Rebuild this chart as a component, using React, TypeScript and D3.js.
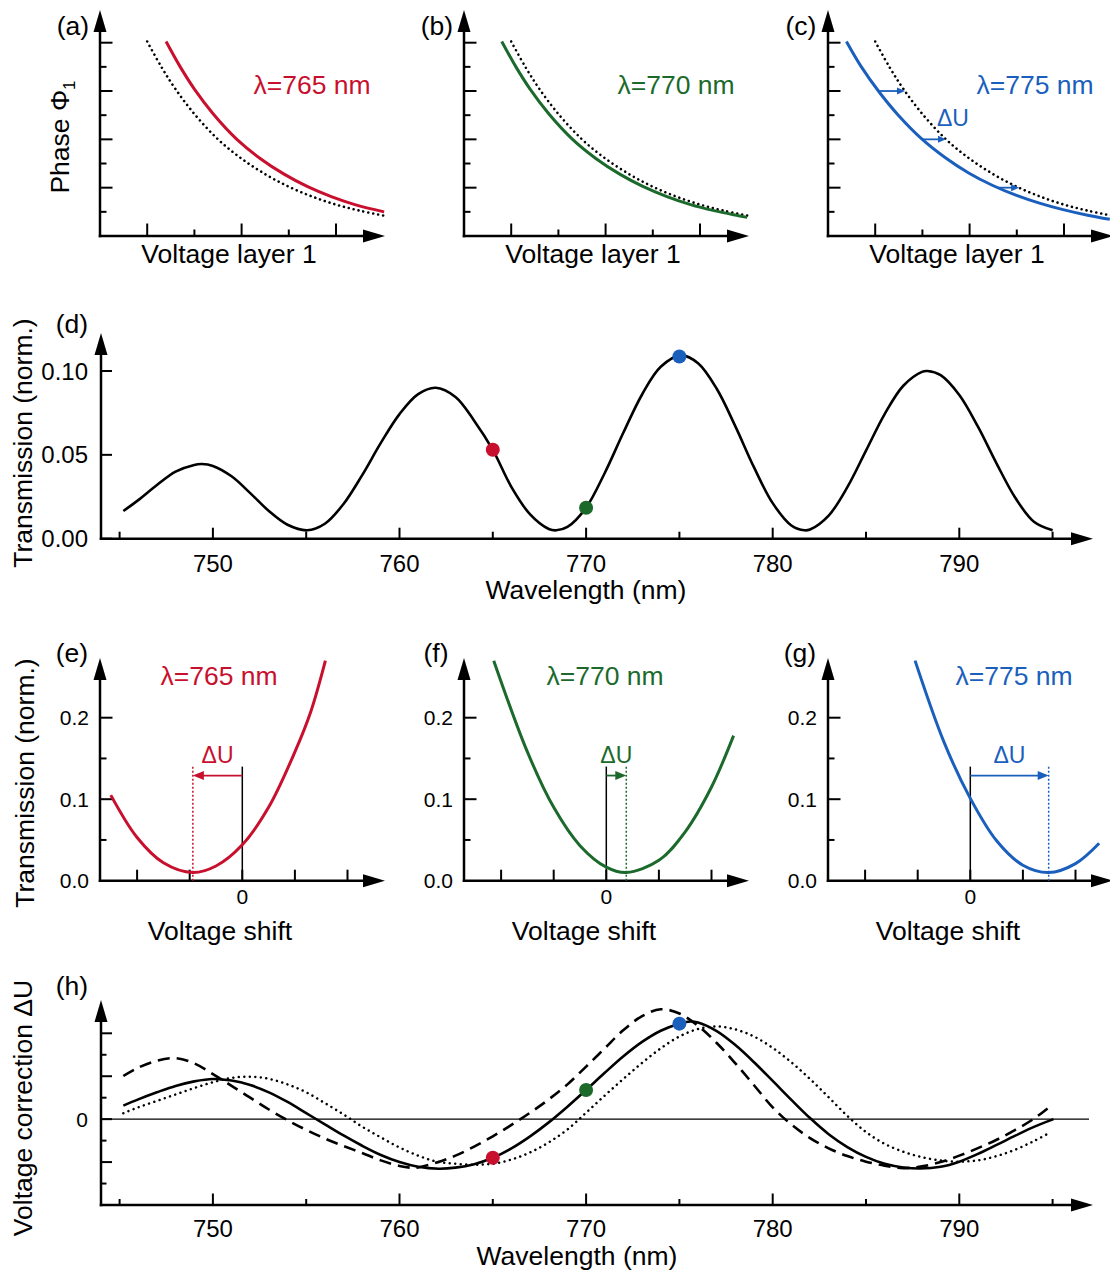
import React from 'react';
import * as d3 from 'd3';

type P = [number, number];

const RED = '#c8102e';
const GREEN = '#1b6a2c';
const BLUE = '#1b5fbd';
const FONT = "'Liberation Sans', Arial, Helvetica, sans-serif";
const TITLE = 26.5;

// ---------- (a)-(c): phase vs voltage ----------
const phaseXTicks = [1, 2, 3, 4, 5];
const phaseYTicks = [1, 2, 3, 4, 5, 6, 7, 8];
const phaseRef: P[] = [[1.0, 8.05], [1.3, 7.0], [1.6, 6.08], [2.0, 5.05], [2.5, 4.0], [3.0, 3.2], [3.5, 2.56], [4.0, 2.04], [4.5, 1.63], [5.0, 1.3], [5.5, 1.05], [6.02, 0.84]];
const phase765: P[] = [[1.4, 8.05], [1.7, 7.0], [2.0, 6.08], [2.4, 5.05], [2.9, 4.0], [3.4, 3.2], [3.9, 2.56], [4.4, 2.04], [4.9, 1.63], [5.4, 1.3], [6.02, 1.0]];
const phase770: P[] = [[0.8, 8.05], [1.1, 7.0], [1.4, 6.08], [1.8, 5.05], [2.3, 4.0], [2.8, 3.2], [3.3, 2.56], [3.8, 2.04], [4.3, 1.63], [4.8, 1.3], [5.3, 1.05], [5.82, 0.84], [6.0, 0.77]];
const phase775: P[] = [[0.39, 8.05], [0.7, 7.02], [1.08, 5.97], [1.48, 5.02], [1.98, 4.03], [2.48, 3.25], [2.98, 2.61], [3.48, 2.1], [3.98, 1.69], [4.48, 1.36], [4.98, 1.09], [5.5, 0.86], [5.97, 0.69]];
const arrowLevels775 = [6, 4, 2];

// ---------- (d): transmission spectrum ----------
const wlMajor = [750, 760, 770, 780, 790];
const wlMinor = [745, 755, 765, 775, 785, 795];
const transTicks = [0, 0.05, 0.1];
const transmission: P[] = [
  [745.2, 0.0165], [746, 0.023], [747, 0.032], [748, 0.04], [749, 0.044], [749.4, 0.0445], [750, 0.0434], [751, 0.0372],
  [752, 0.0272], [753, 0.0165], [754, 0.0083], [755.05, 0.005], [756, 0.0089], [757, 0.0207], [758, 0.0379], [759, 0.0571],
  [760, 0.0743], [761, 0.0862], [761.94, 0.09], [763, 0.0845], [764, 0.0704], [765, 0.053], [766, 0.0308], [767, 0.0145],
  [768, 0.0058], [768.4, 0.005], [769, 0.007], [770, 0.0185], [771, 0.0392], [772, 0.0633], [773, 0.086], [774, 0.1025],
  [775.1, 0.1093], [776, 0.1046], [777, 0.0894], [778, 0.067], [779, 0.0425], [780, 0.0212], [781, 0.0079], [781.7, 0.005],
  [782, 0.0055], [783, 0.0138], [784, 0.0307], [785, 0.0525], [786, 0.0743], [787, 0.0912], [788, 0.0995], [788.3, 0.1],
  [789, 0.0975], [790, 0.0857], [791, 0.0668], [792, 0.0448], [793, 0.0244], [794, 0.0101], [795, 0.005],
];
const markerWl = [765, 770, 775];
const markerColors = [RED, GREEN, BLUE];

// ---------- (e)-(g): transmission vs voltage shift ----------
const shiftTicks = [-2, -1, 0, 1, 2];
const shiftYMajor = [0.1, 0.2];
const shiftYMinor = [0.05, 0.15];
const shiftLabels = ['0.0', '0.1', '0.2'];
const shift765: P[] = [[-2.5, 0.105], [-2.0, 0.053], [-1.5, 0.022], [-0.94, 0.01], [-0.5, 0.018], [0, 0.044], [0.5, 0.09], [1.0, 0.158], [1.3, 0.207], [1.58, 0.27]];
const shift770: P[] = [[-2.14, 0.27], [-1.5, 0.158], [-1.0, 0.09], [-0.5, 0.043], [0, 0.0166], [0.38, 0.01], [1.0, 0.025], [1.5, 0.06], [2.0, 0.115], [2.42, 0.178]];
const shift775: P[] = [[-1.05, 0.27], [-0.5, 0.17], [0, 0.101], [0.5, 0.049], [1.0, 0.019], [1.49, 0.01], [2.0, 0.021], [2.45, 0.046]];
const shiftMin = [-0.94, 0.38, 1.49];
const arrowLevel = 0.129;
const markerTop = 0.14;

// ---------- (h): voltage correction ----------
const corrMajor = [-2, 0, 2, 4];
const corrMinor = [-3, -1, 1, 3];
const corrSolid: P[] = [
  [745.2, 0.63], [746, 0.92], [747, 1.25], [748, 1.55], [749, 1.76], [750, 1.87], [751, 1.8], [752, 1.59], [753, 1.25],
  [754, 0.8], [755, 0.28], [756, -0.24], [757, -0.76], [758, -1.24], [759, -1.67], [760, -2.0], [761, -2.22], [762.1, -2.31],
  [763, -2.26], [764, -2.1], [765, -1.8], [766, -1.36], [767, -0.8], [768, -0.15], [769, 0.58], [770, 1.36], [771, 2.16],
  [772, 2.93], [773, 3.6], [774, 4.12], [775, 4.45], [775.6, 4.55], [776, 4.5], [777, 4.1], [778, 3.45], [779, 2.65],
  [780, 1.78], [781, 0.9], [782, 0.05], [783, -0.7], [784, -1.3], [785, -1.76], [786, -2.08], [787, -2.25], [787.9, -2.3],
  [789, -2.22], [790, -1.98], [791, -1.62], [792, -1.2], [793, -0.77], [794, -0.36], [795.05, 0],
];
const corrDashed: P[] = [
  [745.2, 2.01], [746, 2.4], [747, 2.72], [748, 2.84], [749, 2.6], [750, 2.1], [751, 1.55], [752, 1.0], [753, 0.45],
  [754, -0.05], [755, -0.5], [756, -0.9], [757, -1.25], [758, -1.58], [759, -1.92], [760, -2.18], [760.6, -2.26],
  [761, -2.25], [762, -2.02], [763, -1.7], [764, -1.28], [765, -0.8], [766, -0.27], [767, 0.3], [768, 0.92], [769, 1.62],
  [770, 2.45], [771, 3.3], [772, 4.15], [773, 4.8], [774, 5.12], [775, 4.92], [776, 4.35], [777, 3.55], [778, 2.6],
  [779, 1.58], [780, 0.55], [781, -0.25], [782, -0.88], [783, -1.36], [784, -1.72], [785, -1.98], [786, -2.17], [787, -2.28],
  [788, -2.2], [789, -2.0], [790, -1.7], [791, -1.35], [792, -0.96], [793, -0.5], [794, 0.02], [794.8, 0.55],
];
const corrDotted: P[] = [
  [745.2, 0.28], [746, 0.55], [747, 0.85], [748, 1.15], [749, 1.45], [750, 1.72], [751, 1.92], [752, 1.98], [753, 1.88],
  [754, 1.62], [755, 1.25], [756, 0.75], [757, 0.22], [758, -0.35], [759, -0.85], [760, -1.32], [761, -1.7], [762, -1.98],
  [763, -2.08], [764, -2.12], [765, -2.08], [766, -1.88], [767, -1.55], [768, -1.08], [769, -0.48], [770, 0.3], [771, 1.1],
  [772, 1.88], [773, 2.62], [774, 3.3], [775, 3.85], [776, 4.2], [777, 4.32], [778, 4.18], [779, 3.85], [780, 3.32],
  [781, 2.65], [782, 1.87], [783, 1.02], [784, 0.15], [785, -0.6], [786, -1.15], [787, -1.52], [788, -1.77], [789, -1.93],
  [790, -1.98], [791, -1.92], [792, -1.72], [793, -1.42], [794, -1.02], [794.8, -0.65],
];

// ---------- helpers ----------
function interpY(data: P[], x: number): number {
  for (let i = 0; i < data.length - 1; i++) {
    const [x0, y0] = data[i];
    const [x1, y1] = data[i + 1];
    if (x >= x0 && x <= x1) return y0 + ((y1 - y0) * (x - x0)) / (x1 - x0);
  }
  return data[data.length - 1][1];
}
function interpX(data: P[], y: number): number {
  for (let i = 0; i < data.length - 1; i++) {
    const [x0, y0] = data[i];
    const [x1, y1] = data[i + 1];
    if ((y <= y0 && y >= y1) || (y >= y0 && y <= y1)) return x0 + ((x1 - x0) * (y - y0)) / (y1 - y0);
  }
  return data[data.length - 1][0];
}

const AXW = 2.5;

function UpArrow({ x, y }: { x: number; y: number }) {
  return <path d={`M${x},${y} L${x - 6.5},${y + 22} L${x + 6.5},${y + 22} Z`} fill="#000" />;
}
function RightArrow({ x, y }: { x: number; y: number }) {
  return <path d={`M${x},${y} L${x - 22},${y - 6.5} L${x - 22},${y + 6.5} Z`} fill="#000" />;
}

function Axes({ ox, oy, top, right }: { ox: number; oy: number; top: number; right: number }) {
  return (
    <g>
      <line x1={ox} y1={oy + AXW / 2} x2={ox} y2={top + 18} stroke="#000" strokeWidth={AXW} />
      <UpArrow x={ox} y={top} />
      <line x1={ox - AXW / 2} y1={oy} x2={right - 18} y2={oy} stroke="#000" strokeWidth={AXW} />
      <RightArrow x={right} y={oy} />
    </g>
  );
}

const txt = (props: any, children: any) => (
  <text fontFamily={FONT} fill="#000" {...props}>
    {children}
  </text>
);

function PhasePanel({ ox, letter, color, label, labelX, curve, arrows }: { ox: number; letter: string; color: string; label: string; labelX: number; curve: P[]; arrows?: number[] }) {
  const xs = d3.scaleLinear().domain([0, 6]).range([ox, ox + 283.2]);
  const ys = d3.scaleLinear().domain([0, 8]).range([236, 42.7]);
  const oy = ys(0);
  const ln = d3.line<P>().x((d) => xs(d[0])).y((d) => ys(d[1])).curve(d3.curveCatmullRom.alpha(0.5));
  return (
    <g>
      <Axes ox={ox} oy={oy} top={10} right={ox + 285} />
      {phaseXTicks.map((t) => (
        <line key={'x' + t} x1={xs(t)} x2={xs(t)} y1={oy} y2={oy - (t % 2 === 1 ? 12.5 : 6.5)} stroke="#000" strokeWidth={2} />
      ))}
      {phaseYTicks.map((t) => (
        <line key={'y' + t} x1={ox} x2={ox + (t % 2 === 0 ? 12.5 : 6.5)} y1={ys(t)} y2={ys(t)} stroke="#000" strokeWidth={2} />
      ))}
      <path d={ln(phaseRef) || ''} fill="none" stroke="#000" strokeWidth={2.6} strokeDasharray="0.01 5" strokeLinecap="round" />
      <path d={ln(curve) || ''} fill="none" stroke={color} strokeWidth={3} />
      {arrows &&
        arrows.map((lv) => {
          const x1 = xs(interpX(curve, lv));
          const x2 = xs(interpX(phaseRef, lv));
          const y = ys(lv);
          return (
            <g key={'a' + lv}>
              <line x1={x1} x2={x2 - 6} y1={y} y2={y} stroke={color} strokeWidth={1.8} />
              <path d={`M${x2},${y} L${x2 - 8},${y - 3.5} L${x2 - 8},${y + 3.5} Z`} fill={color} />
            </g>
          );
        })}
      {txt({ x: ox - 27, y: 35, fontSize: TITLE, textAnchor: 'middle' }, letter)}
      {txt({ x: labelX, y: 94, fontSize: TITLE, textAnchor: 'middle', fill: color }, label)}
      {txt({ x: ox + 129, y: 263, fontSize: TITLE, textAnchor: 'middle' }, 'Voltage layer 1')}
    </g>
  );
}

function ShiftPanel({ ox, letter, color, label, labelX, curve, minX }: { ox: number; letter: string; color: string; label: string; labelX: number; curve: P[]; minX: number }) {
  const xs = d3.scaleLinear().domain([-2, 2]).range([ox + 142.3 - 105.2, ox + 142.3 + 105.2]);
  const ys = d3.scaleLinear().domain([0, 0.2]).range([880.7, 717.7]);
  const oy = ys(0);
  const ln = d3.line<P>().x((d) => xs(d[0])).y((d) => ys(d[1])).curve(d3.curveCatmullRom.alpha(0.5));
  const ay = ys(arrowLevel);
  const x0 = xs(0);
  const xm = xs(minX);
  const dir = xm > x0 ? 1 : -1;
  return (
    <g>
      <Axes ox={ox} oy={oy} top={658} right={ox + 285} />
      {shiftTicks.map((t) => (
        <line key={'x' + t} x1={xs(t)} x2={xs(t)} y1={oy} y2={oy - 11} stroke="#000" strokeWidth={2} />
      ))}
      {shiftYMajor.map((t) => (
        <line key={'ym' + t} x1={ox} x2={ox + 12.5} y1={ys(t)} y2={ys(t)} stroke="#000" strokeWidth={2} />
      ))}
      {shiftYMinor.map((t) => (
        <line key={'yn' + t} x1={ox} x2={ox + 6.5} y1={ys(t)} y2={ys(t)} stroke="#000" strokeWidth={2} />
      ))}
      {shiftLabels.map((s, i) => txt({ key: 'l' + s, x: ox - 11, y: ys(i * 0.1) + 7.5, fontSize: 21, textAnchor: 'end' }, s))}
      {txt({ x: x0, y: 904, fontSize: 21, textAnchor: 'middle' }, '0')}
      <line x1={x0} x2={x0} y1={oy} y2={ys(markerTop)} stroke="#000" strokeWidth={1.5} />
      <line x1={xm} x2={xm} y1={oy} y2={ys(markerTop)} stroke={color} strokeWidth={1.5} strokeDasharray="2 2" />
      <line x1={x0} x2={xm - dir * 8} y1={ay} y2={ay} stroke={color} strokeWidth={1.8} />
      <path d={`M${xm},${ay} L${xm - dir * 11},${ay - 4.5} L${xm - dir * 11},${ay + 4.5} Z`} fill={color} />
      <path d={ln(curve) || ''} fill="none" stroke={color} strokeWidth={3} />
      {txt({ x: ox - 28, y: 662, fontSize: TITLE, textAnchor: 'middle' }, letter)}
      {txt({ x: (x0 + xm) / 2, y: 763, fontSize: 23, textAnchor: 'middle', fill: color }, 'ΔU')}
      {txt({ x: labelX, y: 685, fontSize: TITLE, textAnchor: 'middle', fill: color }, label)}
      {txt({ x: ox + 120, y: 940, fontSize: TITLE, textAnchor: 'middle' }, 'Voltage shift')}
    </g>
  );
}

export default function App() {
  const xw = d3.scaleLinear().domain([745, 795]).range([119.6, 1052.6]);
  const yd = d3.scaleLinear().domain([0, 0.1]).range([538.7, 371]);
  const yh = d3.scaleLinear().domain([-4, 4]).range([1205, 1033.3]);
  const lnD = d3.line<P>().x((d) => xw(d[0])).y((d) => yd(d[1])).curve(d3.curveCatmullRom.alpha(0.5));
  const lnH = d3.line<P>().x((d) => xw(d[0])).y((d) => yh(d[1])).curve(d3.curveCatmullRom.alpha(0.5));
  const ox = 101;

  return (
    <svg width={1110} height={1275} style={{ position: 'absolute', left: 0, top: 0, background: '#fff' }}>
      <rect x={0} y={0} width={1110} height={1275} fill="#fff" />
      {/* (a)-(c) */}
      <PhasePanel ox={100} letter="(a)" color={RED} label="λ=765 nm" labelX={312} curve={phase765} />
      <PhasePanel ox={464} letter="(b)" color={GREEN} label="λ=770 nm" labelX={676} curve={phase770} />
      <PhasePanel ox={828} letter="(c)" color={BLUE} label="λ=775 nm" labelX={1035} curve={phase775} arrows={arrowLevels775} />
      {txt({ x: 953, y: 126, fontSize: 23, textAnchor: 'middle', fill: BLUE }, 'ΔU')}
      <text fontFamily={FONT} fontSize={TITLE} textAnchor="middle" transform="translate(69,137) rotate(-90)">
        Phase Φ<tspan fontSize={17} dy={6}>1</tspan>
      </text>

      {/* (d) */}
      <g>
        <Axes ox={ox} oy={yd(0)} top={333} right={1093} />
        {wlMajor.map((t) => (
          <line key={'dM' + t} x1={xw(t)} x2={xw(t)} y1={yd(0)} y2={yd(0) - 11} stroke="#000" strokeWidth={2} />
        ))}
        {wlMinor.map((t) => (
          <line key={'dm' + t} x1={xw(t)} x2={xw(t)} y1={yd(0)} y2={yd(0) - 7} stroke="#000" strokeWidth={2} />
        ))}
        {transTicks.map((t) => (
          <line key={'dy' + t} x1={ox} x2={ox + 11} y1={yd(t)} y2={yd(t)} stroke="#000" strokeWidth={2} />
        ))}
        {transTicks.map((t) => txt({ key: 'dl' + t, x: 88, y: yd(t) + 8.5, fontSize: 24, textAnchor: 'end' }, t.toFixed(2)))}
        {wlMajor.map((t) => txt({ key: 'dx' + t, x: xw(t), y: 572, fontSize: 24, textAnchor: 'middle' }, String(t)))}
        <path d={lnD(transmission) || ''} fill="none" stroke="#000" strokeWidth={2.6} />
        {markerWl.map((w, i) => (
          <circle key={'dc' + w} cx={xw(w)} cy={yd(interpY(transmission, w))} r={7} fill={markerColors[i]} />
        ))}
        {txt({ x: 72, y: 333, fontSize: TITLE, textAnchor: 'middle' }, '(d)')}
        {txt({ x: 586, y: 599, fontSize: TITLE, textAnchor: 'middle' }, 'Wavelength (nm)')}
        <text fontFamily={FONT} fontSize={TITLE} textAnchor="middle" transform="translate(23,443) rotate(-90)" dy="0.35em">
          Transmission (norm.)
        </text>
      </g>

      {/* (e)-(g) */}
      <ShiftPanel ox={100} letter="(e)" color={RED} label="λ=765 nm" labelX={219} curve={shift765} minX={shiftMin[0]} />
      <ShiftPanel ox={464} letter="(f)" color={GREEN} label="λ=770 nm" labelX={605} curve={shift770} minX={shiftMin[1]} />
      <ShiftPanel ox={828} letter="(g)" color={BLUE} label="λ=775 nm" labelX={1014} curve={shift775} minX={shiftMin[2]} />
      <text fontFamily={FONT} fontSize={TITLE} textAnchor="middle" transform="translate(25,783) rotate(-90)" dy="0.35em">
        Transmission (norm.)
      </text>

      {/* (h) */}
      <g>
        <Axes ox={ox} oy={yh(-4)} top={1000} right={1093} />
        {wlMajor.map((t) => (
          <line key={'hM' + t} x1={xw(t)} x2={xw(t)} y1={yh(-4)} y2={yh(-4) - 11.5} stroke="#000" strokeWidth={2} />
        ))}
        {wlMinor.map((t) => (
          <line key={'hm' + t} x1={xw(t)} x2={xw(t)} y1={yh(-4)} y2={yh(-4) - 6} stroke="#000" strokeWidth={2} />
        ))}
        {corrMajor.map((t) => (
          <line key={'hy' + t} x1={ox} x2={ox + 11} y1={yh(t)} y2={yh(t)} stroke="#000" strokeWidth={2} />
        ))}
        {corrMinor.map((t) => (
          <line key={'hn' + t} x1={ox} x2={ox + 5.5} y1={yh(t)} y2={yh(t)} stroke="#000" strokeWidth={2} />
        ))}
        <line x1={ox} x2={1089} y1={yh(0)} y2={yh(0)} stroke="#000" strokeWidth={1.2} />
        {txt({ x: 88, y: yh(0) + 7.5, fontSize: 21, textAnchor: 'end' }, '0')}
        {wlMajor.map((t) => txt({ key: 'hx' + t, x: xw(t), y: 1237, fontSize: 24, textAnchor: 'middle' }, String(t)))}
        <path d={lnH(corrDotted) || ''} fill="none" stroke="#000" strokeWidth={2.5} strokeDasharray="0.01 5.5" strokeLinecap="round" />
        <path d={lnH(corrDashed) || ''} fill="none" stroke="#000" strokeWidth={2.6} strokeDasharray="12 7" />
        <path d={lnH(corrSolid) || ''} fill="none" stroke="#000" strokeWidth={2.6} />
        {markerWl.map((w, i) => (
          <circle key={'hc' + w} cx={xw(w)} cy={yh(interpY(corrSolid, w))} r={7} fill={markerColors[i]} />
        ))}
        {txt({ x: 72, y: 995, fontSize: TITLE, textAnchor: 'middle' }, '(h)')}
        {txt({ x: 577, y: 1265, fontSize: TITLE, textAnchor: 'middle' }, 'Wavelength (nm)')}
        <text fontFamily={FONT} fontSize={TITLE} textAnchor="middle" transform="translate(23,1108) rotate(-90)" dy="0.35em">
          Voltage correction ΔU
        </text>
      </g>
    </svg>
  );
}
